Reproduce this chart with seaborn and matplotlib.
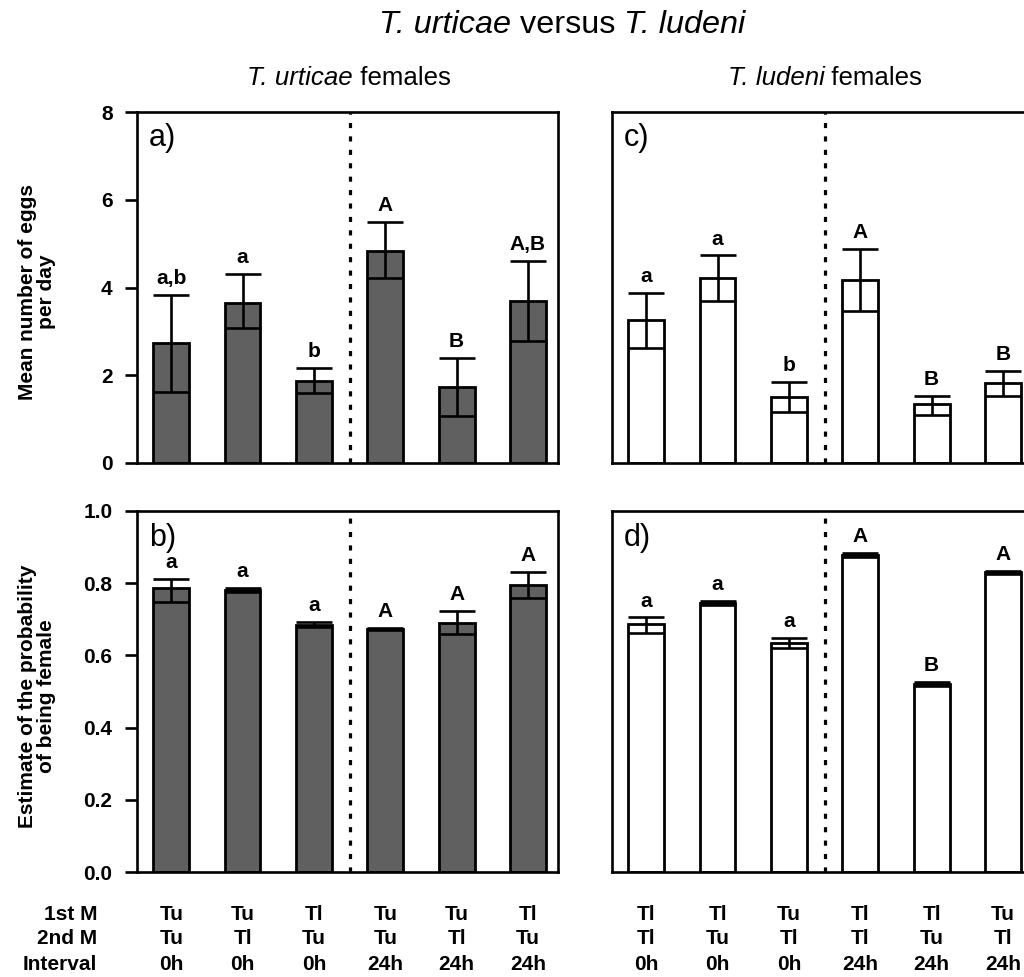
import numpy as np
import pandas as pd
import matplotlib
matplotlib.use("Agg")
import matplotlib.pyplot as plt
import matplotlib.transforms as mtransforms
import seaborn as sns

# ---- data ----
first_m_tu = ["Tu", "Tu", "Tl", "Tu", "Tu", "Tl"]
second_m_tu = ["Tu", "Tl", "Tu", "Tu", "Tl", "Tu"]
interval_tu = ["0h", "0h", "0h", "24h", "24h", "24h"]

first_m_tl = ["Tl", "Tl", "Tu", "Tl", "Tl", "Tu"]
second_m_tl = ["Tl", "Tu", "Tl", "Tl", "Tu", "Tl"]
interval_tl = ["0h", "0h", "0h", "24h", "24h", "24h"]

eggs_tu_mean = [2.74, 3.65, 1.87, 4.84, 1.74, 3.69]
eggs_tu_lo = [1.62, 3.07, 1.59, 4.22, 1.07, 2.79]
eggs_tu_hi = [3.84, 4.30, 2.16, 5.50, 2.40, 4.61]
eggs_tu_sig = ["a,b", "a", "b", "A", "B", "A,B"]

eggs_tl_mean = [3.26, 4.21, 1.51, 4.17, 1.34, 1.83]
eggs_tl_lo = [2.63, 3.70, 1.17, 3.47, 1.09, 1.53]
eggs_tl_hi = [3.88, 4.73, 1.84, 4.87, 1.53, 2.10]
eggs_tl_sig = ["a", "a", "b", "A", "B", "B"]

fem_tu_mean = [0.786, 0.781, 0.685, 0.673, 0.690, 0.795]
fem_tu_lo = [0.747, 0.775, 0.679, 0.670, 0.658, 0.758]
fem_tu_hi = [0.811, 0.787, 0.692, 0.677, 0.724, 0.832]
fem_tu_sig = ["a", "a", "a", "A", "A", "A"]

fem_tl_mean = [0.686, 0.745, 0.633, 0.878, 0.520, 0.830]
fem_tl_lo = [0.663, 0.739, 0.620, 0.873, 0.514, 0.825]
fem_tl_hi = [0.705, 0.752, 0.647, 0.884, 0.526, 0.835]
fem_tl_sig = ["a", "a", "a", "A", "B", "A"]

DARK = "#606060"

sns.set_style("white")
plt.rcParams["font.family"] = ["Liberation Sans", "DejaVu Sans"]
for key in ("text.color", "axes.labelcolor", "xtick.color", "ytick.color", "axes.edgecolor"):
    plt.rcParams[key] = "black"

W, H = 1024, 977
fig = plt.figure(figsize=(W / 100, H / 100), dpi=100)


def px_axes(x0, y0, x1, y1):
    return fig.add_axes([x0 / W, 1 - y1 / H, (x1 - x0) / W, (y1 - y0) / H])


ax_a = px_axes(137, 112, 558, 463)
ax_b = px_axes(137, 511, 558, 872)
ax_c = px_axes(612, 112, 1033, 463)
ax_d = px_axes(612, 511, 1033, 872)


def draw_panel(ax, first, second, interval, mean, lo, hi, sig, fill, ylim, letter):
    conds = [f"{a}/{b}/{c}" for a, b, c in zip(first, second, interval)]
    df = pd.DataFrame({"cond": conds, "mean": mean})
    sns.barplot(data=df, x="cond", y="mean", order=conds, color=fill, saturation=1,
                edgecolor="black", linewidth=2.0, width=0.5, errorbar=None, ax=ax, zorder=2)
    mean = np.array(mean)
    yerr = [mean - np.array(lo), np.array(hi) - mean]
    ax.errorbar(np.arange(len(mean)), mean, yerr=yerr, fmt="none", ecolor="black",
                elinewidth=1.9, capsize=13, capthick=1.9, zorder=3)
    for i, (h, s) in enumerate(zip(hi, sig)):
        ax.annotate(s, (i, h), xytext=(0, 5), textcoords="offset points", ha="center",
                    va="bottom", fontsize=15, fontweight="bold")
    ax.axvline(2.5, color="black", ls=(0, (1.6, 2.6)), lw=2.3, zorder=1)
    ax.set_ylim(*ylim)
    ax.set_xlim(-0.48, 5.42)
    ax.set_xlabel("")
    ax.set_ylabel("")
    ax.set_xticks([])
    ax.text(0.028, 0.968, letter, transform=ax.transAxes, fontsize=22, ha="left", va="top")
    for sp in ax.spines.values():
        sp.set_color("black")
        sp.set_linewidth(1.9)
        sp.set_visible(True)


draw_panel(ax_a, first_m_tu, second_m_tu, interval_tu, eggs_tu_mean, eggs_tu_lo, eggs_tu_hi,
           eggs_tu_sig, DARK, (0, 8), "a)")
draw_panel(ax_b, first_m_tu, second_m_tu, interval_tu, fem_tu_mean, fem_tu_lo, fem_tu_hi,
           fem_tu_sig, DARK, (0, 1.0), "b)")
draw_panel(ax_c, first_m_tl, second_m_tl, interval_tl, eggs_tl_mean, eggs_tl_lo, eggs_tl_hi,
           eggs_tl_sig, "white", (0, 8), "c)")
draw_panel(ax_d, first_m_tl, second_m_tl, interval_tl, fem_tl_mean, fem_tl_lo, fem_tl_hi,
           fem_tl_sig, "white", (0, 1.0), "d)")

# left axes: outward ticks with bold labels
ax_a.set_yticks([0, 2, 4, 6, 8])
ax_b.set_yticks([0, 0.2, 0.4, 0.6, 0.8, 1.0])
ax_b.set_yticklabels(["0.0", "0.2", "0.4", "0.6", "0.8", "1.0"])
for ax in (ax_a, ax_b):
    ax.tick_params(axis="y", direction="out", length=8.6, width=1.9, left=True, pad=9)
    for lab in ax.get_yticklabels():
        lab.set_fontweight("bold")
        lab.set_fontsize(15)
for ax in (ax_c, ax_d):
    ax.set_yticks([])

fig.text(37 / W, 1 - 292 / H, "Mean number of eggs\nper day", fontsize=15,
         fontweight="bold", rotation=90, ha="center", va="center", linespacing=1.05)
fig.text(37 / W, 1 - 696 / H, "Estimate of the probability\nof being female", fontsize=15,
         fontweight="bold", rotation=90, ha="center", va="center", linespacing=1.05)


def mixed_text(cx, cy, parts, size):
    """Centre a run of (text, style) pieces at pixel (cx, cy)."""
    renderer = fig.canvas.get_renderer()
    objs = [fig.text(0, 1 - cy / H, t, fontsize=size, fontstyle=s, ha="left", va="center")
            for t, s in parts]
    widths = [o.get_window_extent(renderer).width for o in objs]
    x = cx - sum(widths) / 2
    for o, w in zip(objs, widths):
        o.set_x(x / W)
        x += w


# titles
mixed_text(562, 25, [("T. urticae", "italic"), (" versus ", "normal"), ("T. ludeni", "italic")], 23.3)
mixed_text(349, 78, [("T. urticae", "italic"), (" females", "normal")], 18.6)
mixed_text(825, 78, [("T. ludeni", "italic"), (" females", "normal")], 18.6)

# treatment table below the bottom panels
row_y = [914, 938, 964]
row_names = ["1st M", "2nd M", "Interval"]
for name, y in zip(row_names, row_y):
    fig.text(97 / W, 1 - y / H, name, fontsize=15, fontweight="bold",
             ha="right", va="center")
for ax, rows in ((ax_b, (first_m_tu, second_m_tu, interval_tu)),
                 (ax_d, (first_m_tl, second_m_tl, interval_tl))):
    trans = mtransforms.blended_transform_factory(ax.transData, fig.transFigure)
    for vals, y in zip(rows, row_y):
        for i, v in enumerate(vals):
            ax.text(i, 1 - y / H, v, transform=trans, fontsize=15, fontweight="bold",
                    ha="center", va="center", clip_on=False)

fig.savefig("out.png", dpi=100)
